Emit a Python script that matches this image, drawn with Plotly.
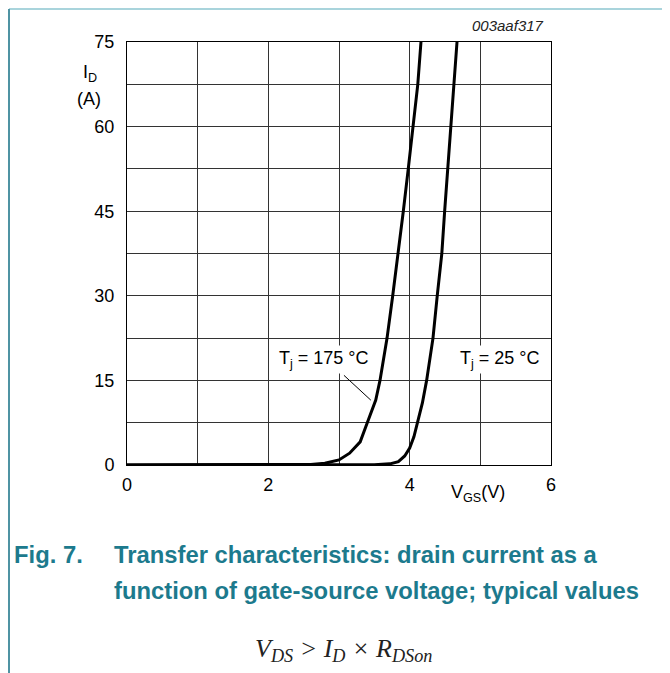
import plotly.graph_objects as go

# ---- data ----
vgs_175 = [0, 1.0, 2.0, 2.3, 2.6, 2.8, 3.0, 3.15, 3.3, 3.4, 3.52, 3.58, 3.68, 3.76, 3.84, 3.91, 3.98, 4.05, 4.115, 4.16]
id_175 = [0, 0, 0.01, 0.03, 0.1, 0.3, 0.9, 2.1, 4.1, 7.5, 11.5, 15, 22.5, 30, 37.5, 45, 52.5, 60, 67.5, 75]

vgs_25 = [0, 2.0, 3.0, 3.5, 3.72, 3.84, 3.93, 4.0, 4.06, 4.11, 4.18, 4.24, 4.33, 4.39, 4.455, 4.495, 4.54, 4.59, 4.63, 4.67]
id_25 = [0, 0, 0, 0.05, 0.2, 0.6, 1.6, 3.0, 5.0, 7.5, 11, 15, 22.5, 30, 37.5, 45, 52.5, 60, 67.5, 75]

x_tickvals = [0, 1, 2, 3, 4, 5, 6]
x_ticktext = ["0", "", "2", "", "4", "", "6"]
y_tickvals = [0, 7.5, 15, 22.5, 30, 37.5, 45, 52.5, 60, 67.5, 75]
y_ticktext = ["0", "", "15", "", "30", "", "45", "", "60", "", "75"]

leader_175 = dict(x0=3.07, y0=15.9, x1=3.45, y1=11.5)

# ---- layout geometry (page pixel coordinates) ----
W, H = 670, 673
OFF = 8  # page body margin
L, R, T, B = 127, 551, 42, 465


def px(xp):
    return (xp - L) / (R - L)


def py(yp):
    return (B - yp) / (B - T)


TEAL = "#1c7a8d"
FONT = "Liberation Sans, Arial, sans-serif"

fig = go.Figure()
fig.add_trace(go.Scatter(x=vgs_175, y=id_175, mode="lines",
                         line=dict(color="black", width=3), showlegend=False))
fig.add_trace(go.Scatter(x=vgs_25, y=id_25, mode="lines",
                         line=dict(color="black", width=3), showlegend=False))

fig.update_xaxes(range=[0, 6], tickvals=x_tickvals, ticktext=x_ticktext,
                 showgrid=True, gridcolor="#333", gridwidth=1,
                 showline=True, linecolor="black", linewidth=1, mirror=True,
                 zeroline=False, ticks="", ticklen=0, ticklabelstandoff=3,
                 tickfont=dict(family=FONT, size=18, color="black"))
fig.update_yaxes(range=[0, 75], tickvals=y_tickvals, ticktext=y_ticktext,
                 showgrid=True, gridcolor="#333", gridwidth=1,
                 showline=True, linecolor="black", linewidth=1, mirror=True,
                 zeroline=False, ticks="", ticklen=0, ticklabelstandoff=8,
                 tickfont=dict(family=FONT, size=18, color="black"))

ann = []
ann.append(dict(text="<i>003aaf317</i>", x=px(546), y=py(26), xref="paper", yref="paper",
                xanchor="right", yanchor="middle", showarrow=False,
                font=dict(family=FONT, size=15, color="#222")))
ann.append(dict(text="I<sub>D</sub>", x=px(81), y=py(73), xref="paper", yref="paper",
                xanchor="left", yanchor="middle", showarrow=False,
                font=dict(family=FONT, size=18, color="black")))
ann.append(dict(text="(A)", x=px(89), y=py(99), xref="paper", yref="paper",
                xanchor="center", yanchor="middle", showarrow=False,
                font=dict(family=FONT, size=18, color="black")))
ann.append(dict(text="V<sub>GS</sub>(V)", x=px(449), y=py(493), xref="paper", yref="paper",
                xanchor="left", yanchor="middle", showarrow=False,
                font=dict(family=FONT, size=18, color="black")))
ann.append(dict(text="T<sub>j</sub> = 175 °C", x=px(324), y=py(359), xref="paper", yref="paper",
                xanchor="center", yanchor="middle", showarrow=False, bgcolor="white",
                borderpad=2, font=dict(family=FONT, size=18, color="black")))
ann.append(dict(text="T<sub>j</sub> = 25 °C", x=px(500), y=py(359), xref="paper", yref="paper",
                xanchor="center", yanchor="middle", showarrow=False, bgcolor="white",
                borderpad=2, font=dict(family=FONT, size=18, color="black")))
# caption
CAP = "Liberation Sans, Arial, sans-serif"
ann.append(dict(text="<b>Fig. 7.</b>", x=px(12), y=py(554), xref="paper", yref="paper",
                xanchor="left", yanchor="middle", showarrow=False,
                font=dict(family=CAP, size=23.8, color=TEAL)))
ann.append(dict(text="<b>Transfer characteristics: drain current as a</b>", x=px(112), y=py(554),
                xref="paper", yref="paper", xanchor="left", yanchor="middle", showarrow=False,
                font=dict(family=CAP, size=23.8, color=TEAL)))
ann.append(dict(text="<b>function of gate-source voltage; typical values</b>", x=px(112), y=py(590),
                xref="paper", yref="paper", xanchor="left", yanchor="middle", showarrow=False,
                font=dict(family=CAP, size=23.8, color=TEAL)))
ann.append(dict(text="<i>V<sub>DS</sub> &gt; I<sub>D</sub> × R<sub>DSon</sub></i>", x=px(343), y=py(650),
                xref="paper", yref="paper", xanchor="center", yanchor="middle", showarrow=False,
                font=dict(family="Liberation Serif, Times New Roman, serif", size=26, color="#222")))

shapes = []
shapes.append(dict(type="line", xref="x", yref="y", **leader_175,
                   line=dict(color="black", width=1)))
# page frame (page body margin pushes the figure by OFF px)
shapes.append(dict(type="line", xref="paper", yref="paper", x0=px(OFF + 1), x1=px(667), y0=py(OFF + 1), y1=py(OFF + 1),
                   line=dict(color="#a9d4dc", width=2)))
shapes.append(dict(type="line", xref="paper", yref="paper", x0=px(OFF + 1), x1=px(OFF + 1), y0=py(OFF + 1), y1=py(690),
                   line=dict(color="#4f93a3", width=2)))
shapes.append(dict(type="line", xref="paper", yref="paper", x0=px(667), x1=px(667), y0=py(OFF + 1), y1=py(690),
                   line=dict(color="#a9d4dc", width=2)))

fig.update_layout(width=W, height=H,
                  margin=dict(l=L - OFF, r=W - (R - OFF), t=T - OFF, b=H - (B - OFF)),
                  paper_bgcolor="white", plot_bgcolor="white",
                  annotations=ann, shapes=shapes, showlegend=False)

fig.write_html("out.html")
